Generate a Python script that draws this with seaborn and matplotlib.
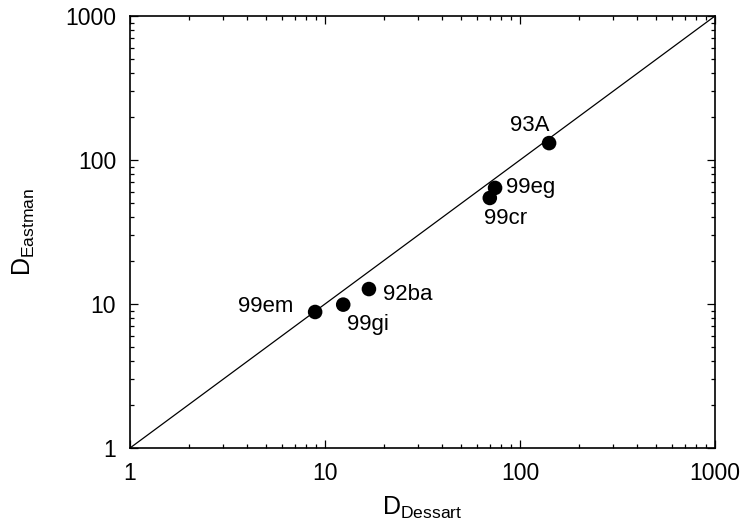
import matplotlib
matplotlib.use("Agg")
import matplotlib.pyplot as plt
import seaborn as sns
import pandas as pd
from matplotlib.ticker import LogLocator, FixedLocator, FixedFormatter, NullFormatter

names = ["99em", "99gi", "92ba", "99cr", "99eg", "93A"]
d_dessart = [8.9, 12.4, 16.8, 70.0, 74.5, 141.0]
d_eastman = [8.8, 9.9, 12.7, 54.5, 64.0, 131.0]
tick_vals = [1, 10, 100, 1000]
tick_labels = ["1", "10", "100", "1000"]

sns.set_theme(style="white")
plt.rcParams["font.family"] = ["Liberation Sans", "DejaVu Sans"]
plt.rcParams["mathtext.fontset"] = "custom"
plt.rcParams["mathtext.rm"] = "Liberation Sans"
plt.rcParams["mathtext.it"] = "Liberation Sans"
plt.rcParams["text.color"] = "black"
plt.rcParams["axes.labelcolor"] = "black"
plt.rcParams["xtick.color"] = "black"
plt.rcParams["ytick.color"] = "black"

df = pd.DataFrame({"name": names, "x": d_dessart, "y": d_eastman})

fig = plt.figure(figsize=(7.44, 5.27), dpi=100)
ax = fig.add_axes([130/744, 1 - 448/527, 585/744, 432/527])

ax.plot([1, 1000], [1, 1000], color="black", lw=0.9, zorder=1)
sns.scatterplot(data=df, x="x", y="y", ax=ax, color="black", s=110,
                edgecolor="none", zorder=3, legend=False)

ax.set_xscale("log")
ax.set_yscale("log")
ax.set_xlim(1, 1000)
ax.set_ylim(1, 1000)

offsets = {
    "99em": (-16, 4, "right", "center"),
    "99gi": (3, -14, "left", "center"),
    "92ba": (10, -4, "left", "center"),
    "99cr": (-4, -15, "left", "center"),
    "99eg": (8, 0, "left", "center"),
    "93A": (0, 13, "right", "center"),
}
for n, x, y in zip(names, d_dessart, d_eastman):
    dx, dy, ha, va = offsets[n]
    ax.annotate(n, (x, y), xytext=(dx, dy), textcoords="offset points",
                ha=ha, va=va, fontsize=16, color="black")

for axis in (ax.xaxis, ax.yaxis):
    axis.set_major_locator(FixedLocator(tick_vals))
    axis.set_major_formatter(FixedFormatter(tick_labels))
    axis.set_minor_locator(LogLocator(base=10, subs=range(2, 10)))
    axis.set_minor_formatter(NullFormatter())

ax.tick_params(which="both", direction="in", top=True, right=True,
               bottom=True, left=True, color="black", labelcolor="black",
               labelsize=16.5)
ax.tick_params(which="major", length=6, width=0.9, pad=10)
ax.tick_params(which="minor", length=3, width=0.9)
for sp in ax.spines.values():
    sp.set_color("black")
    sp.set_linewidth(1.2)

ax.set_xlabel(r"D$_{\mathrm{Dessart}}$", fontsize=18, color="black", labelpad=7)
ax.set_ylabel(r"D$_{\mathrm{Eastman}}$", fontsize=18, color="black", labelpad=20)

fig.savefig("out.png", dpi=100, facecolor="white")
